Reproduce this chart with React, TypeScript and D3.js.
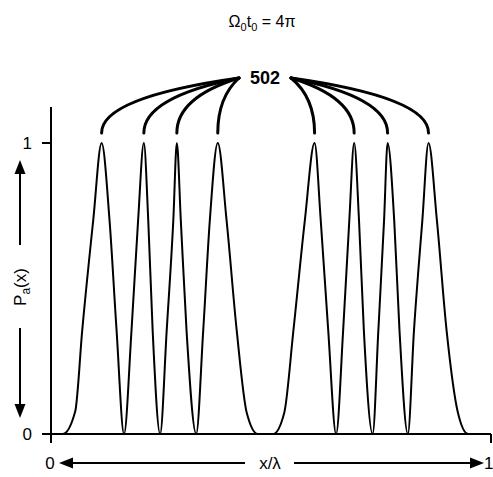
import React from 'react'
import * as d3 from 'd3'

// curve samples: x/λ and P_a(x)
const xs = [0, 0.027, 0.055, 0.071, 0.096, 0.115, 0.133, 0.149, 0.166, 0.183, 0.198, 0.211, 0.221, 0.231, 0.248,
  0.263, 0.278, 0.286, 0.295, 0.308, 0.33, 0.346, 0.361, 0.379, 0.399, 0.422, 0.445, 0.47, 0.505, 0.53,
  0.551, 0.577, 0.599, 0.613, 0.63, 0.648, 0.664, 0.678, 0.689, 0.7, 0.711, 0.731, 0.744, 0.757, 0.765,
  0.78, 0.792, 0.811, 0.825, 0.844, 0.858, 0.877, 0.899, 0.925, 0.948, 1]
const ps = [0, 0, 0.077, 0.357, 0.735, 1, 0.735, 0.357, 0, 0.357, 0.735, 1, 0.735, 0.357, 0,
  0.357, 0.735, 1, 0.735, 0.357, 0, 0.357, 0.735, 1, 0.735, 0.357, 0.072, 0, 0, 0.072,
  0.357, 0.735, 1, 0.735, 0.357, 0, 0.357, 0.735, 1, 0.735, 0.357, 0, 0.357, 0.735, 1,
  0.735, 0.357, 0, 0.357, 0.735, 1, 0.735, 0.357, 0.072, 0, 0]

const peaks = [0.115, 0.211, 0.286, 0.379, 0.599, 0.689, 0.765, 0.858]
const peakLabel = '502'
const yTicks = [0, 1]
const title = 'Ω'

export default function App() {
  const W = 493, H = 477
  const margin = { top: 143, right: 2, bottom: 43, left: 51 }

  const x = d3.scaleLinear().domain([0, 1]).range([margin.left, W - margin.right])
  const y = d3.scaleLinear().domain([0, 1]).range([H - margin.bottom, margin.top])

  const pts: [number, number][] = xs.map((v, i) => [v, ps[i]])
  const line = d3.line<[number, number]>()
    .x(d => x(d[0]))
    .y(d => y(d[1]))
    .curve(d3.curveMonotoneX)

  // connector arcs from each peak to the "502" label
  const labelX = 265, labelY = 78
  const arcs = peaks.map(p => {
    const sx = x(p), sy = y(1) - 10
    const ex = p < 0.5 ? labelX - 26 : labelX + 26
    const path = d3.path()
    path.moveTo(sx, sy)
    path.quadraticCurveTo(sx, labelY + (sy - labelY) * 0.35, ex, labelY)
    return path.toString()
  })

  const font = 'Liberation Sans, Arial, sans-serif'
  const y0 = y(0)

  return (
    <svg width={W} height={H} style={{ display: 'block', position: 'absolute', left: 0, top: 0 }}
      fontFamily={font}>
      <rect width={W} height={H} fill="white" />
      <text x={262} y={27} fontSize={16} textAnchor="middle">
        {title}<tspan fontSize={11} dy={4}>0</tspan><tspan dy={-4}>t</tspan><tspan fontSize={11} dy={4}>0</tspan>
        <tspan dy={-4}> = 4π</tspan>
      </text>

      {/* axes */}
      <line x1={x(0)} x2={x(0)} y1={107} y2={y0 + 9} stroke="black" strokeWidth={2} />
      <line x1={x(0) - 9} x2={x(1)} y1={y0} y2={y0} stroke="black" strokeWidth={2} />
      <line x1={x(1)} x2={x(1)} y1={y0} y2={y0 + 9} stroke="black" strokeWidth={2} />
      {yTicks.map(t => (
        <g key={t}>
          <line x1={x(0) - 9} x2={x(0)} y1={y(t)} y2={y(t)} stroke="black" strokeWidth={2} />
          <text x={32} y={y(t) + 6} fontSize={17} textAnchor="end">{t}</text>
        </g>
      ))}

      {/* y label with arrows */}
      <g>
        <line x1={20} x2={20} y1={245} y2={172} stroke="black" strokeWidth={2} />
        <path d="M20,160 L14.5,174 L25.5,174 Z" fill="black" />
        <line x1={20} x2={20} y1={328} y2={406} stroke="black" strokeWidth={2} />
        <path d="M20,418 L14.5,404 L25.5,404 Z" fill="black" />
        <text transform="translate(26,287) rotate(-90)" fontSize={17} textAnchor="middle">
          P<tspan fontSize={12} dy={4}>a</tspan><tspan dy={-4}>(x)</tspan>
        </text>
      </g>

      {/* x label with arrows */}
      <g>
        <text x={50} y={469} fontSize={17} textAnchor="middle">0</text>
        <path d="M59,463 L73,457.5 L73,468.5 Z" fill="black" />
        <line x1={71} x2={245} y1={463} y2={463} stroke="black" strokeWidth={2} />
        <text x={270} y={469} fontSize={17} textAnchor="middle">x/λ</text>
        <line x1={294} x2={472} y1={463} y2={463} stroke="black" strokeWidth={2} />
        <path d="M484,463 L470,457.5 L470,468.5 Z" fill="black" />
        <text x={484} y={469} fontSize={17}>1</text>
      </g>

      <path d={line(pts) ?? ''} fill="none" stroke="black" strokeWidth={2} />

      {arcs.map((d, i) => (
        <path key={i} d={d} fill="none" stroke="black" strokeWidth={3} strokeLinecap="round" />
      ))}
      <text x={labelX} y={84} fontSize={18} fontWeight="bold" textAnchor="middle">{peakLabel}</text>
    </svg>
  )
}
